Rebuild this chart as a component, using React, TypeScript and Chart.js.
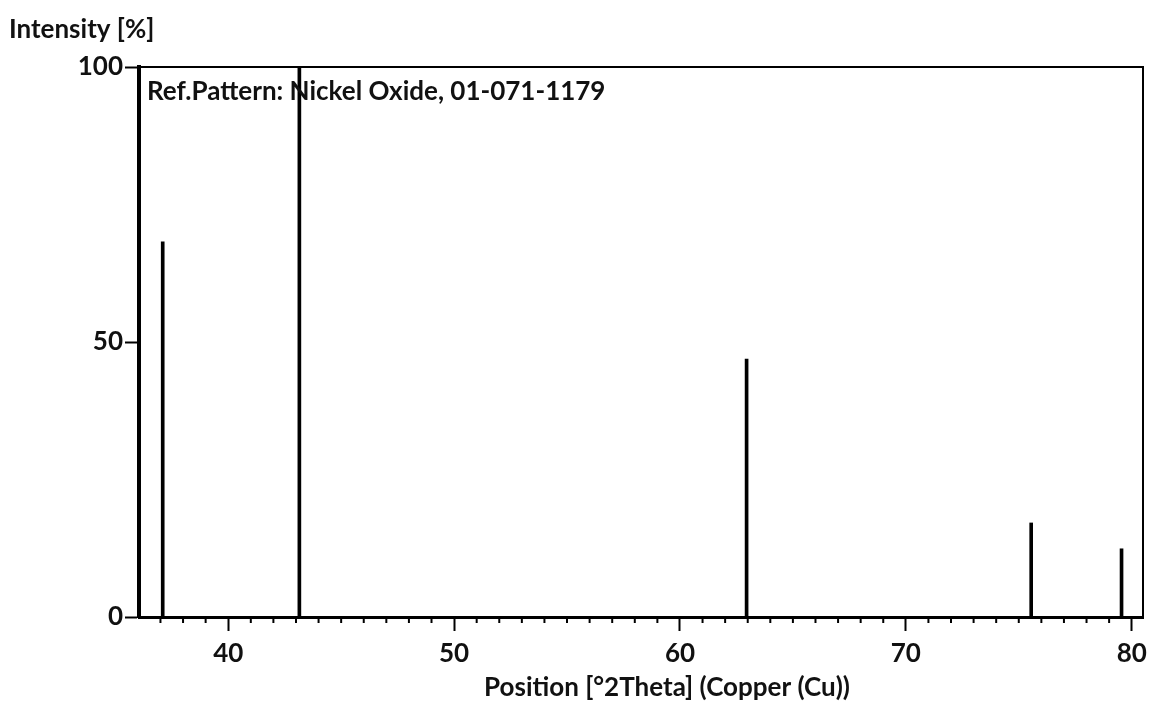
import React, { useEffect, useRef } from "react";
import { Chart, registerables } from "chart.js";

Chart.register(...registerables);

const positions = [37.1, 43.15, 62.95, 75.55, 79.55];
const intensities = [68.2, 100, 46.9, 17.1, 12.4];
const xMajorTicks = [40, 50, 60, 70, 80];
const yTicks = [0, 50, 100];
const yTitle = "Intensity [%]";
const xTitle = "Position [°2Theta] (Copper (Cu))";
const refLabel = "Ref.Pattern: Nickel Oxide, 01-071-1179";

const FONT = "Lato";

const decorPlugin = {
  id: "decor",
  afterDraw(chart: any) {
    const { ctx, chartArea } = chart;
    const xs = chart.scales.x;
    ctx.save();
    ctx.strokeStyle = "#000";
    ctx.lineWidth = 2;
    ctx.beginPath();
    ctx.moveTo(chartArea.left, chartArea.top);
    ctx.lineTo(chartArea.right, chartArea.top);
    ctx.lineTo(chartArea.right, chartArea.bottom);
    ctx.stroke();
    for (let v = Math.ceil(xs.min); v <= xs.max; v++) {
      if (v % 10 === 0) continue;
      const px = xs.getPixelForValue(v);
      ctx.beginPath();
      ctx.moveTo(px, chartArea.bottom);
      ctx.lineTo(px, chartArea.bottom + 6);
      ctx.stroke();
    }
    ctx.fillStyle = "#111";
    ctx.textBaseline = "middle";
    ctx.font = `bold 26px ${FONT}`;
    ctx.textAlign = "left";
    ctx.fillText(yTitle, 9, 30);
    ctx.fillText(refLabel, chartArea.left + 8, 92);
    ctx.textAlign = "center";
    ctx.fillText(xTitle, 667, 688);
    ctx.restore();
  },
};

export default function App() {
  const ref = useRef<HTMLCanvasElement>(null);
  useEffect(() => {
    const chart = new Chart(ref.current!, {
      type: "bar",
      data: {
        datasets: [
          {
            data: positions.map((p, i) => ({ x: p, y: intensities[i] })),
            backgroundColor: "#000",
            borderWidth: 0,
            barThickness: 3,
          },
        ],
      },
      options: {
        responsive: false,
        animation: false,
        layout: { padding: { left: 0, right: 13, top: 67, bottom: 0 } },
        plugins: { legend: { display: false }, tooltip: { enabled: false }, title: { display: false } },
        scales: {
          x: {
            type: "linear",
            offset: false,
            min: 36.05,
            max: 80.5,
            afterBuildTicks: (s: any) => {
              s.ticks = xMajorTicks.map((v) => ({ value: v }));
            },
            afterFit: (s: any) => {
              s.height = 87;
            },
            border: { display: true, color: "#000", width: 3 },
            grid: { offset: false, drawOnChartArea: false, drawTicks: true, tickLength: 14, tickColor: "#000", tickWidth: 2 },
            ticks: { color: "#111", font: { family: FONT, size: 26, weight: "bold" }, padding: 7, maxRotation: 0 },
          },
          y: {
            min: 0,
            max: 100,
            afterBuildTicks: (s: any) => {
              s.ticks = yTicks.map((v) => ({ value: v }));
            },
            afterFit: (s: any) => {
              s.width = 139;
            },
            border: { display: true, color: "#000", width: 4 },
            grid: { drawOnChartArea: false, drawTicks: true, tickLength: 14, tickColor: "#000", tickWidth: 2 },
            ticks: { color: "#111", font: { family: FONT, size: 26, weight: "bold" }, padding: 2 },
          },
        },
      },
      plugins: [decorPlugin],
    } as any);
    return () => chart.destroy();
  }, []);
  return (
    <div style={{ position: "fixed", left: 0, top: 0, width: 1156, height: 704, background: "#fff" }}>
      <canvas ref={ref} width={1156} height={704} />
    </div>
  );
}
